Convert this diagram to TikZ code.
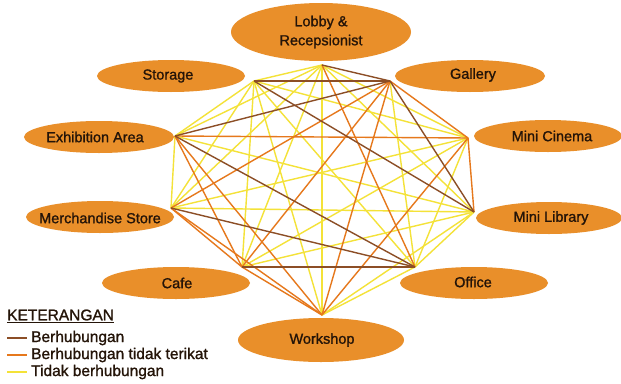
\documentclass[tikz,border=0pt]{standalone}
\usepackage{fontspec}
\setmainfont{Liberation Sans}
\newfontfamily\labelfont{Liberation Sans}[FakeBold=1.2]
\usetikzlibrary{shapes.geometric}
\definecolor{roomfill}{RGB}{233,143,42}
\definecolor{labelink}{RGB}{36,20,8}
\definecolor{linkbrown}{RGB}{140,78,38}
\definecolor{linkorange}{RGB}{230,120,28}
\definecolor{linkyellow}{RGB}{244,226,56}
\begin{document}
\begin{tikzpicture}[x=1pt,y=-1pt,
  roomlabel/.style={text=labelink,font=\labelfont\fontsize{14.5}{19}\selectfont,align=center,inner sep=0pt},
  legendtext/.style={text=labelink,font=\labelfont\fontsize{15.5}{18}\selectfont,anchor=west,inner sep=0pt},
  rel/.style={line width=1.4pt,linkbrown},
  loose/.style={line width=1.4pt,linkorange},
  norel/.style={line width=1.4pt,linkyellow}]
\useasboundingbox[fill=white] (0,0) rectangle (621,383);

% room ellipses
\fill[roomfill] (321,32) ellipse [x radius=90pt,y radius=29pt];
\fill[roomfill] (171,76) ellipse [x radius=74pt,y radius=16pt];
\fill[roomfill] (470,76) ellipse [x radius=75pt,y radius=16pt];
\fill[roomfill] (99,137) ellipse [x radius=75pt,y radius=16pt];
\fill[roomfill] (548,136) ellipse [x radius=74pt,y radius=16pt];
\fill[roomfill] (100,217) ellipse [x radius=74pt,y radius=16pt];
\fill[roomfill] (549,218) ellipse [x radius=73pt,y radius=16pt];
\fill[roomfill] (176,283) ellipse [x radius=74pt,y radius=16pt];
\fill[roomfill] (474,283) ellipse [x radius=74pt,y radius=16pt];
\fill[roomfill] (321,340) ellipse [x radius=83pt,y radius=22pt];

% room names
\node[roomlabel] (lobby) at (321,32) {Lobby \&\\Recepsionist};
\node[roomlabel] (storage) at (168,76) {Storage};
\node[roomlabel] (gallery) at (473,75) {Gallery};
\node[roomlabel] (exhibition) at (95,137) {Exhibition Area};
\node[roomlabel] (cinema) at (552,136) {Mini Cinema};
\node[roomlabel] (merch) at (100,218) {Merchandise Store};
\node[roomlabel] (library) at (551,218) {Mini Library};
\node[roomlabel] (cafe) at (177,283) {Cafe};
\node[roomlabel] (office) at (473,282) {Office};
\node[roomlabel] (workshop) at (322,340) {Workshop};

% relation network vertices
\coordinate (vL) at (322,65);
\coordinate (vS) at (254,81);
\coordinate (vG) at (390,81);
\coordinate (vE) at (175,136);
\coordinate (vC) at (468,138);
\coordinate (vM) at (171,208);
\coordinate (vB) at (474,212);
\coordinate (vF) at (242,267);
\coordinate (vO) at (415,267);
\coordinate (vW) at (322,315);

% not related
\foreach \a/\b in {vL/vS,vL/vE,vL/vC,vL/vM,vL/vB,vL/vF,vL/vW,vS/vE,vS/vC,vS/vM,
  vS/vF,vS/vO,vS/vW,vG/vO,vE/vM,vE/vB,vC/vM,vC/vF,vC/vO,vM/vB,vB/vF,vB/vO,vB/vW,vO/vW}
  \draw[norel] (\a) -- (\b);
% loosely related
\foreach \a/\b in {vL/vO,vG/vC,vG/vM,vG/vF,vG/vW,vE/vC,vE/vF,vE/vW,vC/vB,vC/vW,
  vM/vW,vM/vF,vF/vW}
  \draw[loose] (\a) -- (\b);
% related
\foreach \a/\b in {vL/vG,vS/vG,vE/vG,vS/vB,vG/vB,vE/vO,vM/vO,vF/vO}
  \draw[rel] (\a) -- (\b);

% legend
\node[legendtext] (legtitle) at (7,316) {\underline{KETERANGAN}};
\coordinate (k1a) at (7,338); \coordinate (k1b) at (27,338);
\coordinate (k2a) at (7,355); \coordinate (k2b) at (27,355);
\coordinate (k3a) at (7,372); \coordinate (k3b) at (27,372);
\draw[rel] (k1a) -- (k1b);
\draw[loose] (k2a) -- (k2b);
\draw[norel] (k3a) -- (k3b);
\node[legendtext] (leg1) at (31,338) {Berhubungan};
\node[legendtext] (leg2) at (31,355) {Berhubungan tidak terikat};
\node[legendtext] (leg3) at (31,372) {Tidak berhubungan};
\end{tikzpicture}
\end{document}
